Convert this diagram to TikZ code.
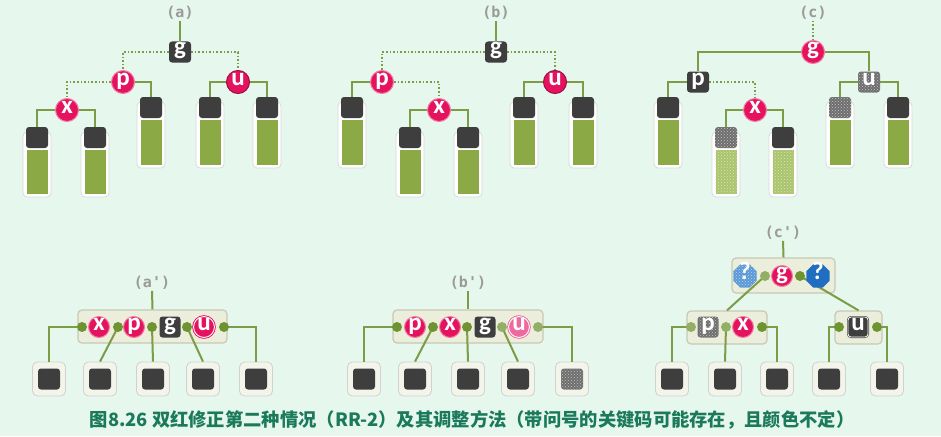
\documentclass[tikz,border=0pt]{standalone}
\usepackage{fontspec}
\setmainfont{Carlito}
\newfontfamily\cjk{Noto Sans CJK SC}
\newfontfamily\monof{DejaVu Sans Mono}
\usetikzlibrary{patterns,shapes.geometric}
\definecolor{bgc}{HTML}{E6F7EE}
\definecolor{lg}{HTML}{7C9C45}
\definecolor{leafg}{HTML}{8BAA45}
\definecolor{leafgl}{HTML}{A9C46A}
\definecolor{dk}{HTML}{3E3E3E}
\definecolor{dkn}{HTML}{6E6E6E}
\definecolor{pk}{HTML}{E5135E}
\definecolor{pkl}{HTML}{EE6A9E}
\definecolor{bl}{HTML}{1F6EC2}
\definecolor{blL}{HTML}{5A98D6}
\definecolor{boxf}{HTML}{ECEEDC}
\definecolor{boxd}{HTML}{C6C9B6}
\definecolor{dotg}{HTML}{6E9432}
\definecolor{capc}{HTML}{1B7A5B}
\definecolor{labc}{HTML}{9A9A9A}
\pgfdeclarelayer{bgl}
\pgfdeclarelayer{boxes}
\pgfdeclarelayer{lines}
\pgfsetlayers{bgl,boxes,lines,main}
\tikzset{
  conn/.style={lg, line width=2pt},
  dotconn/.style={lg, line width=2pt, dash pattern=on 1.6pt off 2pt},
  glyph/.style={text=white, font=\bfseries\fontsize{25}{25}\selectfont, text height=11pt, text depth=5pt, inner sep=0pt},
  rnode/.style={glyph, circle, fill=pk, draw=pk!55!white, line width=1pt, minimum size=23pt},
  rnodes/.style={rnode, minimum size=21pt},
  ringnode/.style={rnodes, draw=pk, double=white, double distance=0.9pt, line width=0.9pt, minimum size=19pt},
  darksq/.style={glyph, rounded corners=3pt, fill=dk, minimum width=22pt, minimum height=21pt},
  noisysq/.style={darksq, fill=dkn, postaction={pattern=crosshatch dots, pattern color=white!55!gray}},
  noisy/.style={postaction={pattern=crosshatch dots, pattern color=white!70!leafg}},
  octo/.style={glyph, regular polygon, regular polygon sides=8, fill=bl, minimum size=25pt},
  lab/.style={text=labc, font=\monof\bfseries\fontsize{15}{15}\selectfont, inner sep=1pt},
  tubeframe/.style={fill=white, draw=black!15, line width=0.8pt, rounded corners=4pt},
  bbox/.style={fill=boxf, draw=boxd, line width=1.2pt, rounded corners=4pt, inner sep=0pt},
  gdot/.style={circle, fill=dotg, minimum size=10pt, inner sep=0pt},
  bleafout/.style={fill=boxf!60!white, draw=black!18, line width=0.8pt, rounded corners=5pt, minimum width=33pt, minimum height=34pt, inner sep=0pt},
}
\newcommand\tube[6]{%
  \begin{pgfonlayer}{boxes}
    \draw[tubeframe] (#2-14,#3+5) rectangle (#2+14,#4);
    \fill[#5] (#2-10.5,#3+23) rectangle (#2+10.5,#4-3.5);
  \end{pgfonlayer}
  \node[#6] (#1) at (#2,#3+10.5) {};
}
\newcommand\bleaf[3]{%
  \begin{pgfonlayer}{boxes}
    \node[bleafout] (#1o) at (#2,379) {};
  \end{pgfonlayer}
  \node[#3] (#1) at (#2,379) {};
}
\begin{document}
\begin{tikzpicture}[x=1pt,y=-1pt]
\begin{pgfonlayer}{bgl}
  \fill[bgc] (0,0) rectangle (941,436);
\end{pgfonlayer}
\useasboundingbox (0,0) rectangle (941,436);

% ---------------- (a)
\node[lab] (labA) at (180,13) {(a)};
\node[darksq] (gA) at (180,52) {g};
\node[rnode] (pA) at (123,82) {p};
\node[rnode, draw=pk!70!black] (uA) at (238,82) {u};
\node[rnode] (xA) at (67,110) {x};
\tube{a1}{37}{127}{197}{leafg}{darksq}
\tube{a2}{95}{127}{197}{leafg}{darksq}
\tube{a3}{151}{97}{168}{leafg}{darksq}
\tube{a4}{210}{97}{168}{leafg}{darksq}
\tube{a5}{267}{97}{168}{leafg}{darksq}
\begin{pgfonlayer}{lines}
\draw[conn] (labA.south) -- (gA.north);
\draw[dotconn] (gA.west) -| (pA.north);
\draw[dotconn] (gA.east) -| (uA.north);
\draw[dotconn] (pA.west) -| (xA.north);
\draw[conn] (pA.east) -| (a3.north);
\draw[conn] (xA.west) -| (a1.north);
\draw[conn] (xA.east) -| (a2.north);
\draw[conn] (uA.west) -| (a4.north);
\draw[conn] (uA.east) -| (a5.north);
\end{pgfonlayer}

% ---------------- (b)
\node[lab] (labB) at (496,13) {(b)};
\node[darksq] (gB) at (496,52) {g};
\node[rnode] (pB) at (382,82) {p};
\node[rnode, draw=pk!70!black] (uB) at (555,82) {u};
\node[rnode] (xB) at (439,110) {x};
\tube{b1}{352}{97}{168}{leafg}{darksq}
\tube{b2}{410}{127}{197}{leafg}{darksq}
\tube{b3}{468}{127}{197}{leafg}{darksq}
\tube{b4}{524}{97}{168}{leafg}{darksq}
\tube{b5}{583}{97}{168}{leafg}{darksq}
\begin{pgfonlayer}{lines}
\draw[conn] (labB.south) -- (gB.north);
\draw[dotconn] (gB.west) -| (pB.north);
\draw[dotconn] (gB.east) -| (uB.north);
\draw[dotconn] (pB.east) -| (xB.north);
\draw[conn] (pB.west) -| (b1.north);
\draw[conn] (xB.west) -| (b2.north);
\draw[conn] (xB.east) -| (b3.north);
\draw[conn] (uB.west) -| (b4.north);
\draw[conn] (uB.east) -| (b5.north);
\end{pgfonlayer}

% ---------------- (c)
\node[lab] (labC) at (813,13) {(c)};
\node[rnode] (gC) at (813,52) {g};
\node[darksq] (pC) at (698,82) {p};
\node[noisysq] (uC) at (869,82) {u};
\node[rnode] (xC) at (755,110) {x};
\tube{c1}{668}{97}{168}{leafg}{darksq}
\tube{c2}{726}{127}{197}{leafgl,noisy}{noisysq}
\tube{c3}{783}{127}{197}{leafgl,noisy}{darksq}
\tube{c4}{840}{97}{168}{leafg}{noisysq}
\tube{c5}{898}{97}{168}{leafg}{darksq}
\begin{pgfonlayer}{lines}
\draw[dotconn] (labC.south) -- (gC.north);
\draw[conn] (gC.west) -| (pC.north);
\draw[conn] (gC.east) -| (uC.north);
\draw[dotconn] (pC.east) -| (xC.north);
\draw[conn] (pC.west) -| (c1.north);
\draw[conn] (xC.west) -| (c2.north);
\draw[conn] (xC.east) -| (c3.north);
\draw[conn] (uC.west) -| (c4.north);
\draw[conn] (uC.east) -| (c5.north);
\end{pgfonlayer}

% ---------------- (a')
\node[lab] (labA2) at (152,283) {(a')};
\begin{pgfonlayer}{boxes}
\node[bbox, minimum width=149pt, minimum height=33pt] (boxA) at (152.5,326.5) {};
\end{pgfonlayer}
\node[gdot] (Ad1) at (82,327) {};
\node[rnodes] (Ax) at (99,327) {x};
\node[gdot] (Ad2) at (118,327) {};
\node[rnodes] (Ap) at (134,327) {p};
\node[gdot] (Ad3) at (152,327) {};
\node[darksq, minimum width=21pt] (Ag) at (170,327) {g};
\node[gdot] (Ad4) at (187,327) {};
\node[ringnode] (Au) at (204,327) {u};
\node[gdot] (Ad5) at (224,327) {};
\bleaf{A1}{49}{darksq}
\bleaf{A2}{100}{darksq}
\bleaf{A3}{153}{darksq}
\bleaf{A4}{203}{darksq}
\bleaf{A5}{256}{darksq}
\begin{pgfonlayer}{lines}
\draw[conn] (labA2.south) -- (boxA.north);
\draw[conn] (Ad1.center) -| (A1o.north);
\draw[conn] (Ad2.center) -- (A2o.north);
\draw[conn] (Ad3.center) -- (A3o.north);
\draw[conn] (Ad4.center) -- (A4o.north);
\draw[conn] (Ad5.center) -| (A5o.north);
\end{pgfonlayer}

% ---------------- (b')
\node[lab] (labB2) at (468,283) {(b')};
\begin{pgfonlayer}{boxes}
\node[bbox, minimum width=150pt, minimum height=33pt] (boxB) at (468,326.5) {};
\end{pgfonlayer}
\node[gdot] (Bd1) at (397,327) {};
\node[rnodes] (Bp) at (415,327) {p};
\node[gdot] (Bd2) at (433,327) {};
\node[rnodes] (Bx) at (450,327) {x};
\node[gdot] (Bd3) at (467,327) {};
\node[darksq, minimum width=21pt] (Bg) at (485,327) {g};
\node[gdot, fill=dotg!75!white] (Bd4) at (502,327) {};
\node[ringnode, fill=pkl, draw=pkl] (Bu) at (519,327) {u};
\node[gdot, fill=dotg!75!white] (Bd5) at (538,327) {};
\bleaf{B1}{364}{darksq}
\bleaf{B2}{415}{darksq}
\bleaf{B3}{468}{darksq}
\bleaf{B4}{518}{darksq}
\bleaf{B5}{572}{noisysq}
\begin{pgfonlayer}{lines}
\draw[conn] (labB2.south) -- (boxB.north);
\draw[conn] (Bd1.center) -| (B1o.north);
\draw[conn] (Bd2.center) -- (B2o.north);
\draw[conn] (Bd3.center) -- (B3o.north);
\draw[conn] (Bd4.center) -- (B4o.north);
\draw[conn] (Bd5.center) -| (B5o.north);
\end{pgfonlayer}

% ---------------- (c')
\node[lab] (labC2) at (783,233) {(c')};
\begin{pgfonlayer}{boxes}
\node[bbox, minimum width=103pt, minimum height=35pt] (boxT) at (783.5,275.5) {};
\node[bbox, minimum width=80pt, minimum height=33pt] (boxL) at (727,327.5) {};
\node[bbox, minimum width=47pt, minimum height=33pt] (boxR) at (858.5,327.5) {};
\end{pgfonlayer}
\node[octo, fill=blL, postaction={pattern=crosshatch dots, pattern color=white!60!blL}] (Tq1) at (745,276) {?};
\node[gdot, fill=dotg!75!white] (Td1) at (765,276) {};
\node[rnodes] (Tg) at (782,276) {g};
\node[gdot] (Td2) at (800,276) {};
\node[octo] (Tq2) at (818,276) {?};
\node[gdot, fill=dotg!75!white] (Ld1) at (691,327) {};
\node[noisysq, minimum width=21pt] (Lp) at (708,327) {p};
\node[gdot, fill=dotg!75!white] (Ld2) at (726,327) {};
\node[rnodes] (Lx) at (743,327) {x};
\node[gdot] (Ld3) at (762,327) {};
\node[gdot] (Rd1) at (839,327) {};
\node[darksq, minimum width=20pt, minimum height=20pt, draw=dk, double=white, double distance=0.8pt, line width=0.6pt] (Ru) at (858,327) {u};
\node[gdot] (Rd2) at (877,327) {};
\bleaf{C1}{672}{darksq}
\bleaf{C2}{725}{darksq}
\bleaf{C3}{777}{darksq}
\bleaf{C4}{829}{darksq}
\bleaf{C5}{887}{darksq}
\begin{pgfonlayer}{lines}
\draw[conn] (labC2.south) -- (boxT.north);
\draw[conn] (Td1.center) -- (boxL.north);
\draw[conn] (Td2.center) -- (boxR.north);
\draw[conn] (Ld1.center) -| (C1o.north);
\draw[conn] (Ld2.center) -- (C2o.north);
\draw[conn] (Ld3.center) -| (C3o.north);
\draw[conn] (Rd1.center) -| (C4o.north);
\draw[conn] (Rd2.center) -| (C5o.north);
\end{pgfonlayer}

% ---------------- caption
\node[font=\cjk\bfseries\fontsize{18.3}{18.3}\selectfont, text=capc, inner sep=0pt] (cap) at (472,420) {图8.26 双红修正第二种情况（RR-2）及其调整方法（带问号的关键码可能存在，且颜色不定）};
\end{tikzpicture}
\end{document}
